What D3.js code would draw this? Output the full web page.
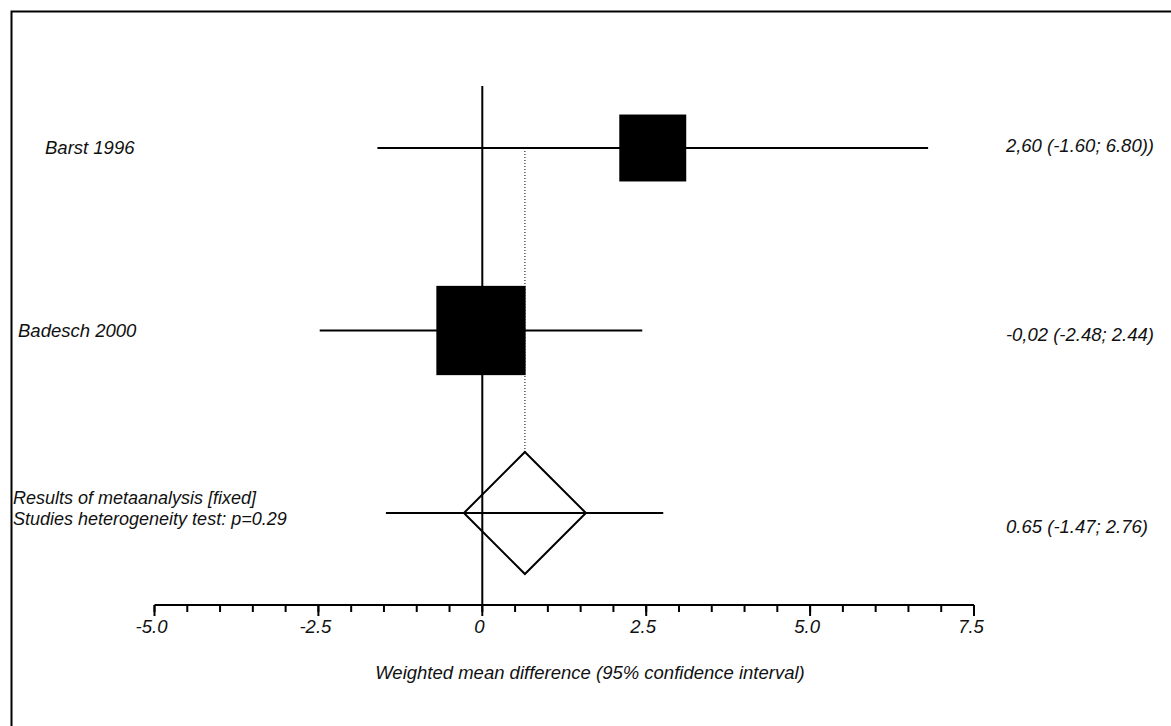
<!DOCTYPE html>
<html>
<head>
<meta charset="utf-8">
<script src="https://cdn.jsdelivr.net/npm/d3@7"></script>
<style>
  body { margin: 0; background: #fff; }
  text { font-family: Arial, "Liberation Sans", sans-serif; font-style: italic; fill: #111; }
</style>
</head>
<body>
<svg id="forest" width="1171" height="726"></svg>
<script>
// studies
var studies = ["Barst 1996", "Badesch 2000"];
var estimate = [2.60, -0.02];
var lower = [-1.60, -2.48];
var upper = [6.80, 2.44];
var weight = [0.36, 0.64];
var resultText = ["2,60 (-1.60; 6.80))", "-0,02 (-2.48; 2.44)"];

// pooled result
var pooledLabel = ["Results of metaanalysis [fixed]", "Studies heterogeneity test: p=0.29"];
var pooled = [0.65, -1.47, 2.76];
var pooledText = "0.65 (-1.47; 2.76)";

// axis
var tickValues = [-5, -2.5, 0, 2.5, 5, 7.5];
var tickLabels = ["-5.0", "-2.5", "0", "2.5", "5.0", "7.5"];
var axisTitle = "Weighted mean difference (95% confidence interval)";

var svg = d3.select("#forest");

// frame (only top and left visible in the picture)
svg.append("rect")
    .attr("x", 11.5).attr("y", 11.5)
    .attr("width", 1300).attr("height", 900)
    .attr("fill", "none").attr("stroke", "#000").attr("stroke-width", 2);

var x = d3.scaleLinear().domain([-5, 7.5]).range([154.5, 974]);
var y = d3.scalePoint().domain(studies.concat(["pooled"])).range([148, 513]);
var side = d3.scaleSqrt().domain([0, 1]).range([0, 111.6]);
var axisY = 605;

// zero line
svg.append("line")
    .attr("x1", x(0)).attr("x2", x(0))
    .attr("y1", 86).attr("y2", axisY)
    .attr("stroke", "#000").attr("stroke-width", 2);

// dotted line at pooled estimate
svg.append("line")
    .attr("x1", x(pooled[0])).attr("x2", x(pooled[0]))
    .attr("y1", y(studies[0])).attr("y2", y("pooled") - 61)
    .attr("stroke", "#000").attr("stroke-width", 1)
    .attr("stroke-dasharray", "1,2");

// study CIs and squares
var rows = svg.append("g").selectAll("g")
    .data(studies)
    .enter().append("g");

rows.append("line")
    .attr("x1", function (d, i) { return x(lower[i]); })
    .attr("x2", function (d, i) { return x(upper[i]); })
    .attr("y1", function (d) { return y(d); })
    .attr("y2", function (d) { return y(d); })
    .attr("stroke", "#000").attr("stroke-width", 2);

rows.append("rect")
    .attr("x", function (d, i) { return x(estimate[i]) - side(weight[i]) / 2; })
    .attr("y", function (d, i) { return y(d) - side(weight[i]) / 2; })
    .attr("width", function (d, i) { return side(weight[i]); })
    .attr("height", function (d, i) { return side(weight[i]); })
    .attr("fill", "#000");

// pooled CI and diamond
svg.append("line")
    .attr("x1", x(pooled[1])).attr("x2", x(pooled[2]))
    .attr("y1", y("pooled")).attr("y2", y("pooled"))
    .attr("stroke", "#000").attr("stroke-width", 2);

var cx = x(pooled[0]), cy = y("pooled"), h = 61;
svg.append("path")
    .attr("d", "M" + cx + "," + (cy - h) + "L" + (cx + h) + "," + cy +
               "L" + cx + "," + (cy + h) + "L" + (cx - h) + "," + cy + "Z")
    .attr("fill", "none").attr("stroke", "#000").attr("stroke-width", 2);

// left labels
var leftX = [45, 18];
rows.append("text")
    .attr("x", function (d, i) { return leftX[i]; })
    .attr("y", function (d) { return y(d) + 6; })
    .attr("font-size", "18.5px")
    .text(function (d) { return d; });

svg.append("g").selectAll("text")
    .data(pooledLabel)
    .enter().append("text")
    .attr("x", 13)
    .attr("y", function (d, i) { return 504 + i * 21; })
    .attr("font-size", "18px")
    .text(function (d) { return d; });

// right labels
var rightDy = [3.5, 10.5];
rows.append("text")
    .attr("x", 1154)
    .attr("y", function (d, i) { return y(d) + rightDy[i]; })
    .attr("text-anchor", "end")
    .attr("font-size", "18.5px")
    .text(function (d, i) { return resultText[i]; });

svg.append("text")
    .attr("x", 1148)
    .attr("y", y("pooled") + 20)
    .attr("text-anchor", "end")
    .attr("font-size", "18.5px")
    .text(pooledText);

// axis
var axis = svg.append("g").attr("transform", "translate(0," + axisY + ")");
axis.append("line")
    .attr("x1", x(-5)).attr("x2", x(7.5))
    .attr("stroke", "#000").attr("stroke-width", 2);

axis.selectAll(".minor")
    .data(x.ticks(25))
    .enter().append("line")
    .attr("class", "minor")
    .attr("x1", function (d) { return x(d); })
    .attr("x2", function (d) { return x(d); })
    .attr("y1", 0).attr("y2", 7)
    .attr("stroke", "#000").attr("stroke-width", 2);

axis.selectAll(".major")
    .data(tickValues)
    .enter().append("line")
    .attr("class", "major")
    .attr("x1", function (d) { return x(d); })
    .attr("x2", function (d) { return x(d); })
    .attr("y1", 0).attr("y2", 11)
    .attr("stroke", "#000").attr("stroke-width", 2);

axis.selectAll(".lbl")
    .data(tickValues)
    .enter().append("text")
    .attr("class", "lbl")
    .attr("x", function (d) { return x(d) - 3; })
    .attr("y", 28)
    .attr("text-anchor", "middle")
    .attr("font-size", "18.5px")
    .text(function (d, i) { return tickLabels[i]; });

svg.append("text")
    .attr("x", 590)
    .attr("y", 679)
    .attr("text-anchor", "middle")
    .attr("font-size", "18.5px")
    .text(axisTitle);
</script>
</body>
</html>
